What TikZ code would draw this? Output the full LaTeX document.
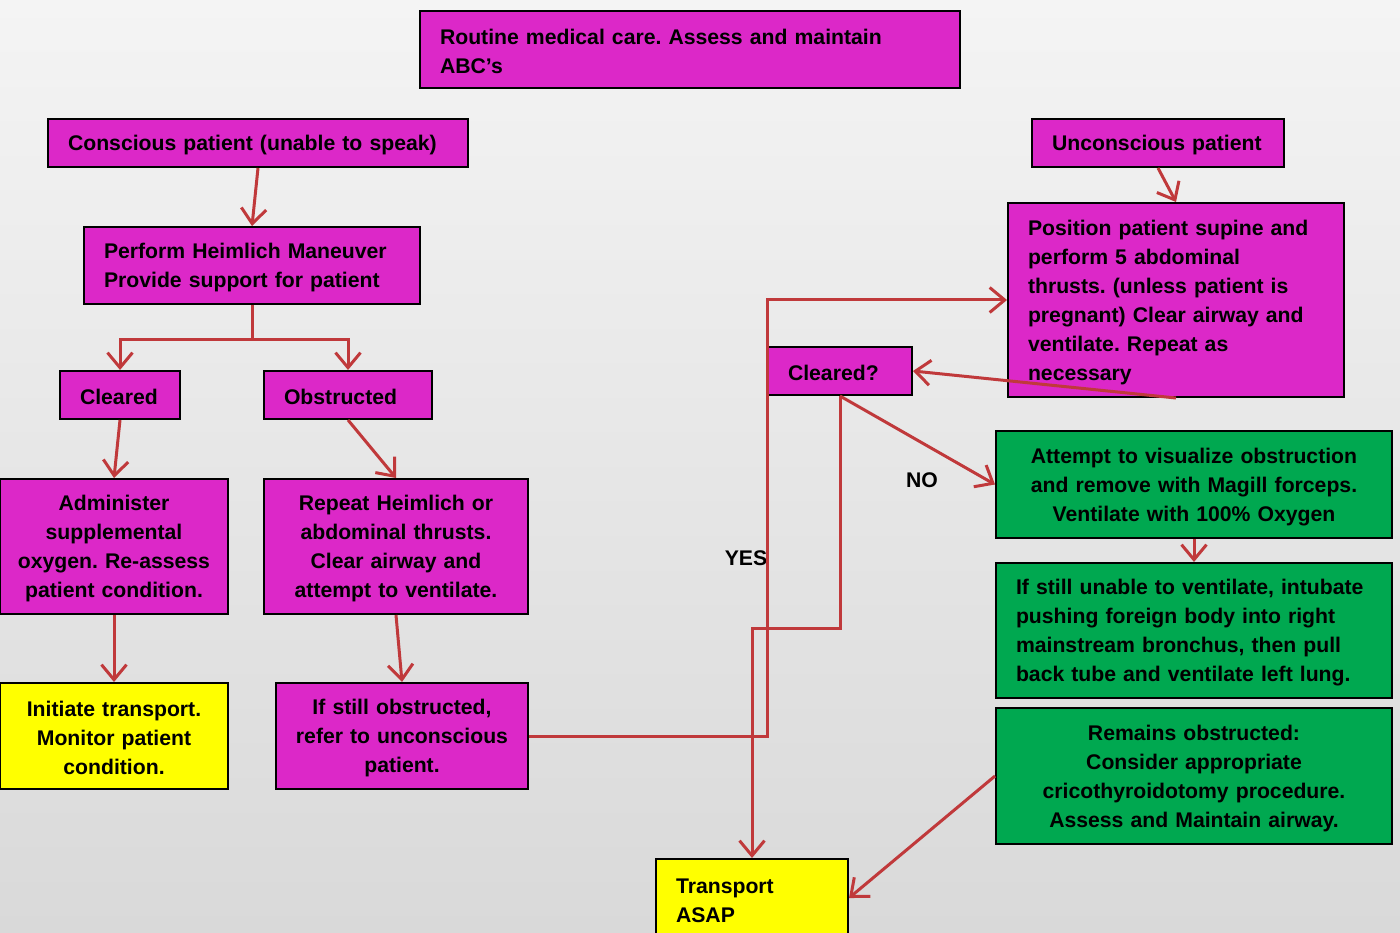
\documentclass[tikz,border=0pt]{standalone}
\usepackage{fontspec}
\setmainfont{Liberation Sans}
\usetikzlibrary{arrows.meta,calc}
\frenchspacing
\hyphenpenalty=10000\relax
\definecolor{mag}{HTML}{DC28C8}
\definecolor{grn}{HTML}{00A850}
\definecolor{ylw}{HTML}{FFFF00}
\definecolor{wire}{HTML}{C0393B}
\definecolor{bgtop}{HTML}{F4F4F4}
\definecolor{bgbot}{HTML}{D9D9D9}
\tikzset{
  box/.style={draw=black, line width=2pt, rectangle, inner ysep=0pt,
    font=\fontsize{21.2}{29}\selectfont\bfseries,
    execute at begin node={\rule{0pt}{20pt}}},
  lbox/.style={box, inner xsep=20pt, align=left},
  cbox/.style={box, inner xsep=5pt, align=center},
  arr/.style={draw=wire, line width=3pt,
    -{Straight Barb[length=15pt,width=25pt,line width=3pt]}},
  tag/.style={font=\fontsize{21.2}{29}\selectfont\bfseries, inner sep=0pt}
}
\begin{document}
\begin{tikzpicture}[x=1pt,y=-1pt]
\useasboundingbox (0,0) rectangle (1400,933);
\clip (0,0) rectangle (1400,933);
\shade[top color=bgtop, bottom color=bgbot] (0,0) rectangle (1400,933);

% left column
\node[lbox, fill=mag, minimum width=540pt, minimum height=77pt, text width=500pt] (top) at (690,49.5)
  {Routine medical care. Assess and maintain\\ABC’s};
\node[lbox, fill=mag, minimum width=420pt, minimum height=48pt, text width=380pt] (consc) at (258,143)
  {Conscious patient (unable to speak)};
\node[lbox, fill=mag, minimum width=336pt, minimum height=77pt, text width=296pt] (heim) at (252,265.5)
  {Perform Heimlich Maneuver\\Provide support for patient};
\node[lbox, fill=mag, minimum width=120pt, minimum height=48pt, text width=80pt] (clr) at (120,395)
  {Cleared};
\node[lbox, fill=mag, minimum width=168pt, minimum height=48pt, text width=128pt] (obs) at (348,395)
  {Obstructed};
\node[cbox, fill=mag, minimum width=228pt, minimum height=135pt, text width=218pt] (oxy) at (114,546.5)
  {Administer\\supplemental\\oxygen. Re-assess\\patient condition.};
\node[cbox, fill=mag, minimum width=264pt, minimum height=135pt, text width=254pt] (rep) at (396,546.5)
  {Repeat Heimlich or\\abdominal thrusts.\\Clear airway and\\attempt to ventilate.};
\node[cbox, fill=ylw, minimum width=228pt, minimum height=106pt, text width=218pt] (init) at (114,736)
  {Initiate transport.\\Monitor patient\\condition.};
\node[cbox, fill=mag, minimum width=252pt, minimum height=106pt, text width=242pt] (still) at (402,736)
  {If still obstructed,\\refer to unconscious\\patient.};

% right column
\node[lbox, fill=mag, minimum width=252pt, minimum height=48pt, text width=212pt] (uncon) at (1158,143)
  {Unconscious patient};
\node[lbox, fill=mag, minimum width=336pt, minimum height=194pt, text width=296pt] (pos) at (1176,300)
  {Position patient supine and\\perform 5 abdominal\\thrusts. (unless patient is\\pregnant) Clear airway and\\ventilate. Repeat as\\necessary};
\node[lbox, fill=mag, minimum width=144pt, minimum height=48pt, text width=104pt] (ask) at (840,371)
  {Cleared?};
\node[cbox, fill=grn, minimum width=396pt, minimum height=107pt, text width=386pt] (vis) at (1194,484.5)
  {Attempt to visualize obstruction\\and remove with Magill forceps.\\Ventilate with 100\% Oxygen};
\node[lbox, fill=grn, minimum width=396pt, minimum height=135pt, text width=356pt] (intub) at (1194,630.5)
  {If still unable to ventilate, intubate\\pushing foreign body into right\\mainstream bronchus, then pull\\back tube and ventilate left lung.};
\node[cbox, fill=grn, minimum width=396pt, minimum height=136pt, text width=386pt] (crico) at (1194,776)
  {Remains obstructed:\\Consider appropriate\\cricothyroidotomy procedure.\\Assess and Maintain airway.};
\node[lbox, fill=ylw, minimum width=192pt, minimum height=78pt, text width=152pt] (asap) at (752,898)
  {Transport\\ASAP};

% branch labels
\node[tag] (no) at (922,480) {NO};
\node[tag] (yes) at (746,558) {YES};

% connectors
\draw[arr] (consc.south) -- (heim.north);
\draw[arr] (uncon.south) -- (pos.north);
\draw[arr] (heim.south) -- ++(0,34) -| (clr.north);
\draw[arr] (heim.south) -- ++(0,34) -| (obs.north);
\draw[arr] (clr.south) -- (oxy.north);
\draw[arr] (obs.south) -- (rep.north);
\draw[arr] (oxy.south) -- (init.north);
\draw[arr] (rep.south) -- (still.north);
\draw[arr] (still.east) -| ([xshift=-240pt]pos.west) -- (pos.west);
\draw[arr] (pos.south) -- (ask.east);
\draw[arr] (ask.south) -- (vis.west);
\draw[arr] (ask.south) -- ++(0,232) -| (asap.north);
\draw[arr] (vis.south) -- (intub.north);
\draw[arr] (crico.west) -- (asap.east);
\end{tikzpicture}
\end{document}
